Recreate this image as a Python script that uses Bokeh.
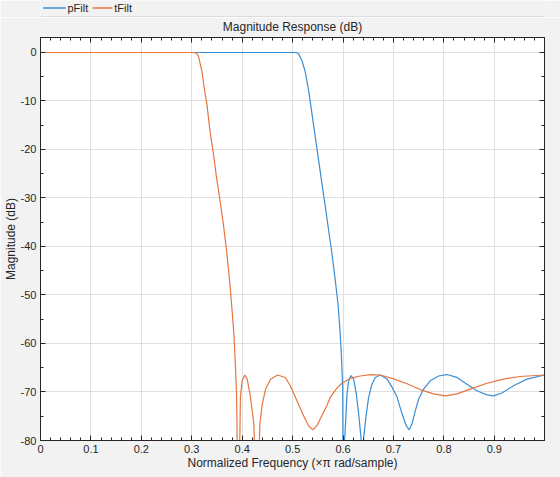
from bokeh.plotting import figure
from bokeh.models import FixedTicker, LinearAxis, Range1d, CustomLabelingPolicy
from bokeh.layouts import column
from bokeh.embed import file_html
from bokeh.resources import INLINE
from bokeh.core.properties import value

# ---------------- data ----------------
series_names = ["pFilt", "tFilt"]

pfilt_freq = [0.000, 0.505, 0.509, 0.512, 0.5187, 0.5253, 0.5319, 0.5385, 0.5451, 0.5517,
              0.5583, 0.5650, 0.5715, 0.5781, 0.5847, 0.5900, 0.5940, 0.5966, 0.5993, 0.6005,
              0.6030, 0.6046, 0.6079, 0.6112, 0.6158, 0.6211, 0.6264, 0.6310, 0.6357, 0.6376,
              0.6409, 0.6462, 0.6508, 0.6574, 0.6640, 0.6740, 0.6872, 0.6971, 0.7070, 0.7170,
              0.7255, 0.7314, 0.7367, 0.7433, 0.7499, 0.7598, 0.7730, 0.7895, 0.8060, 0.8260,
              0.8458, 0.8656, 0.8854, 0.8985, 0.9151, 0.9382, 0.9647, 0.9996]
pfilt_db = [0.0, 0.0, -0.1, -0.34, -1.7, -4.1, -7.9, -12.7, -17.5, -22.3,
            -27.1, -31.9, -36.7, -41.5, -47.0, -51.8, -57.3, -62.1, -69.0, -100.0,
            -80.0, -77.3, -70.4, -67.7, -66.6, -67.35, -70.4, -74.5, -79.4, -100.0,
            -79.4, -74.5, -71.1, -68.4, -67.0, -66.5, -67.3, -69.0, -71.0, -74.5,
            -77.0, -77.8, -76.6, -73.9, -71.5, -69.4, -67.7, -66.7, -66.4, -67.0,
            -68.4, -69.75, -70.6, -70.8, -70.2, -68.7, -67.35, -66.5]

tfilt_freq = [0.000, 0.305, 0.309, 0.313, 0.320, 0.326, 0.330, 0.336, 0.343, 0.349,
              0.356, 0.3625, 0.369, 0.3757, 0.380, 0.384, 0.387, 0.389, 0.3925, 0.3965,
              0.3998, 0.4053, 0.4100, 0.4165, 0.4231, 0.4300, 0.4350, 0.4398, 0.4464, 0.4563,
              0.4704, 0.4855, 0.4954, 0.5086, 0.5218, 0.5317, 0.5403, 0.5482, 0.5580, 0.5680,
              0.5748, 0.5810, 0.5880, 0.5977, 0.6140, 0.6340, 0.6540, 0.6740, 0.7003, 0.7270,
              0.7532, 0.7796, 0.8028, 0.8260, 0.8523, 0.8854, 0.9183, 0.9510, 0.9996]
tfilt_db = [0.0, 0.0, -0.15, -0.7, -3.8, -8.2, -10.6, -16.1, -20.9, -25.7,
            -30.5, -35.3, -40.8, -47.7, -53.2, -58.7, -65.5, -71.1, -100.0, -71.1,
            -67.7, -66.5, -67.35, -71.1, -76.6, -100.0, -76.6, -72.5, -69.4, -67.35,
            -66.5, -67.0, -68.7, -71.8, -74.9, -76.95, -77.8, -76.95, -74.9, -72.8,
            -71.1, -70.2, -69.2, -68.2, -67.2, -66.7, -66.4, -66.5, -67.3, -68.3,
            -69.5, -70.4, -70.8, -70.4, -69.4, -68.2, -67.35, -66.8, -66.5]

x_ticks = [0, 0.1, 0.2, 0.3, 0.4, 0.5, 0.6, 0.7, 0.8, 0.9]
x_tick_labels = ["0", "0.1", "0.2", "0.3", "0.4", "0.5", "0.6", "0.7", "0.8", "0.9"]
y_ticks = [-80, -70, -60, -50, -40, -30, -20, -10, 0]
y_tick_labels = ["-80", "-70", "-60", "-50", "-40", "-30", "-20", "-10", "0"]
x_minor = [round(0.02 * i, 2) for i in range(50)]
y_minor = [-80 + 5 * i for i in range(17)]

title_text = "Magnitude Response (dB)"
x_label = "Normalized Frequency (\u00d7\u03c0 rad/sample)"
y_label = "Magnitude (dB)"

# ---------------- styles ----------------
BG = "#f2f2f2"
AX = "#262626"
GRID = "#dfdfdf"
BLUE = "#3b8ed4"
ORANGE = "#e67640"
FONT = "Liberation Sans"
W = 560
colors = [BLUE, ORANGE]

# ---------------- legend strip ----------------
leg = figure(width=W, height=17, x_range=Range1d(0, W), y_range=Range1d(0, 17),
             output_backend="svg", toolbar_location=None, min_border=0,
             x_axis_type=None, y_axis_type=None,
             background_fill_color=BG, border_fill_color=BG, outline_line_color=None)
swatch_x0 = [3, 58]
swatch_x1 = [28, 80]
label_x = [30, 82]
for name, c, a, b, lx in zip(series_names, colors, swatch_x0, swatch_x1, label_x):
    leg.line(x=[a, b], y=[9.5, 9.5], line_color=c, line_width=1.5)
    leg.text(x=[lx], y=[10], text=[name], text_font=value(FONT),
             text_font_size="11px", text_baseline="middle", text_align="left",
             text_color=AX)
leg.line(x=[0, W], y=[0.5, 0.5], line_color="#c8c8c8", line_width=1)

# ---------------- main plot ----------------
p = figure(width=W, height=460, x_range=Range1d(0, 0.9996), y_range=Range1d(-80, 3.09),
           output_backend="svg", toolbar_location=None,
           min_border_left=40, min_border_right=16, min_border_top=19, min_border_bottom=37,
           background_fill_color="white", border_fill_color=BG,
           outline_line_color=AX, outline_line_width=1)

p.title.text = title_text
p.title.align = "center"
p.title.text_font = FONT
p.title.text_font_size = "12px"
p.title.text_font_style = "normal"
p.title.text_color = AX
p.title.text_line_height = 1.0
p.title.standoff = 0

p.line(pfilt_freq, pfilt_db, line_color=BLUE, line_width=1.2)
p.line(tfilt_freq, tfilt_db, line_color=ORANGE, line_width=1.2)

xt = FixedTicker(ticks=x_ticks, minor_ticks=x_minor)
yt = FixedTicker(ticks=y_ticks, minor_ticks=y_minor)


def style_axis(ax):
    ax.axis_line_color = AX
    ax.major_tick_line_color = AX
    ax.minor_tick_line_color = AX
    ax.major_tick_in = 5
    ax.major_tick_out = 0
    ax.minor_tick_in = 3
    ax.minor_tick_out = 0
    ax.major_label_text_font = FONT
    ax.major_label_text_font_size = "11px"
    ax.major_label_text_color = AX
    ax.axis_label_text_font = FONT
    ax.axis_label_text_font_size = "12px"
    ax.axis_label_text_font_style = "normal"
    ax.axis_label_text_color = AX


xa = p.xaxis[0]
xa.ticker = xt
xa.major_label_overrides = dict(zip(x_ticks, x_tick_labels))
xa.axis_label = x_label
style_axis(xa)
xa.major_label_standoff = 4
xa.axis_label_standoff = 0

ya = p.yaxis[0]
ya.ticker = yt
ya.major_label_overrides = dict(zip(y_ticks, y_tick_labels))
ya.axis_label = y_label
style_axis(ya)
ya.major_label_standoff = 4
ya.axis_label_standoff = 0

no_labels = CustomLabelingPolicy(code="""
for (const i of indices)
  indices.unset(i)
return indices
""")

for loc, tk in (("right", yt), ("above", xt)):
    ax = LinearAxis(ticker=tk)
    style_axis(ax)
    ax.major_label_text_font_size = "1px"
    ax.major_label_standoff = 0
    ax.major_label_policy = no_labels
    p.add_layout(ax, loc)

p.xgrid.ticker = xt
p.ygrid.ticker = yt
p.xgrid.grid_line_color = GRID
p.ygrid.grid_line_color = GRID

layout = column(leg, p)
open("out.html", "w").write(file_html(layout, INLINE))
